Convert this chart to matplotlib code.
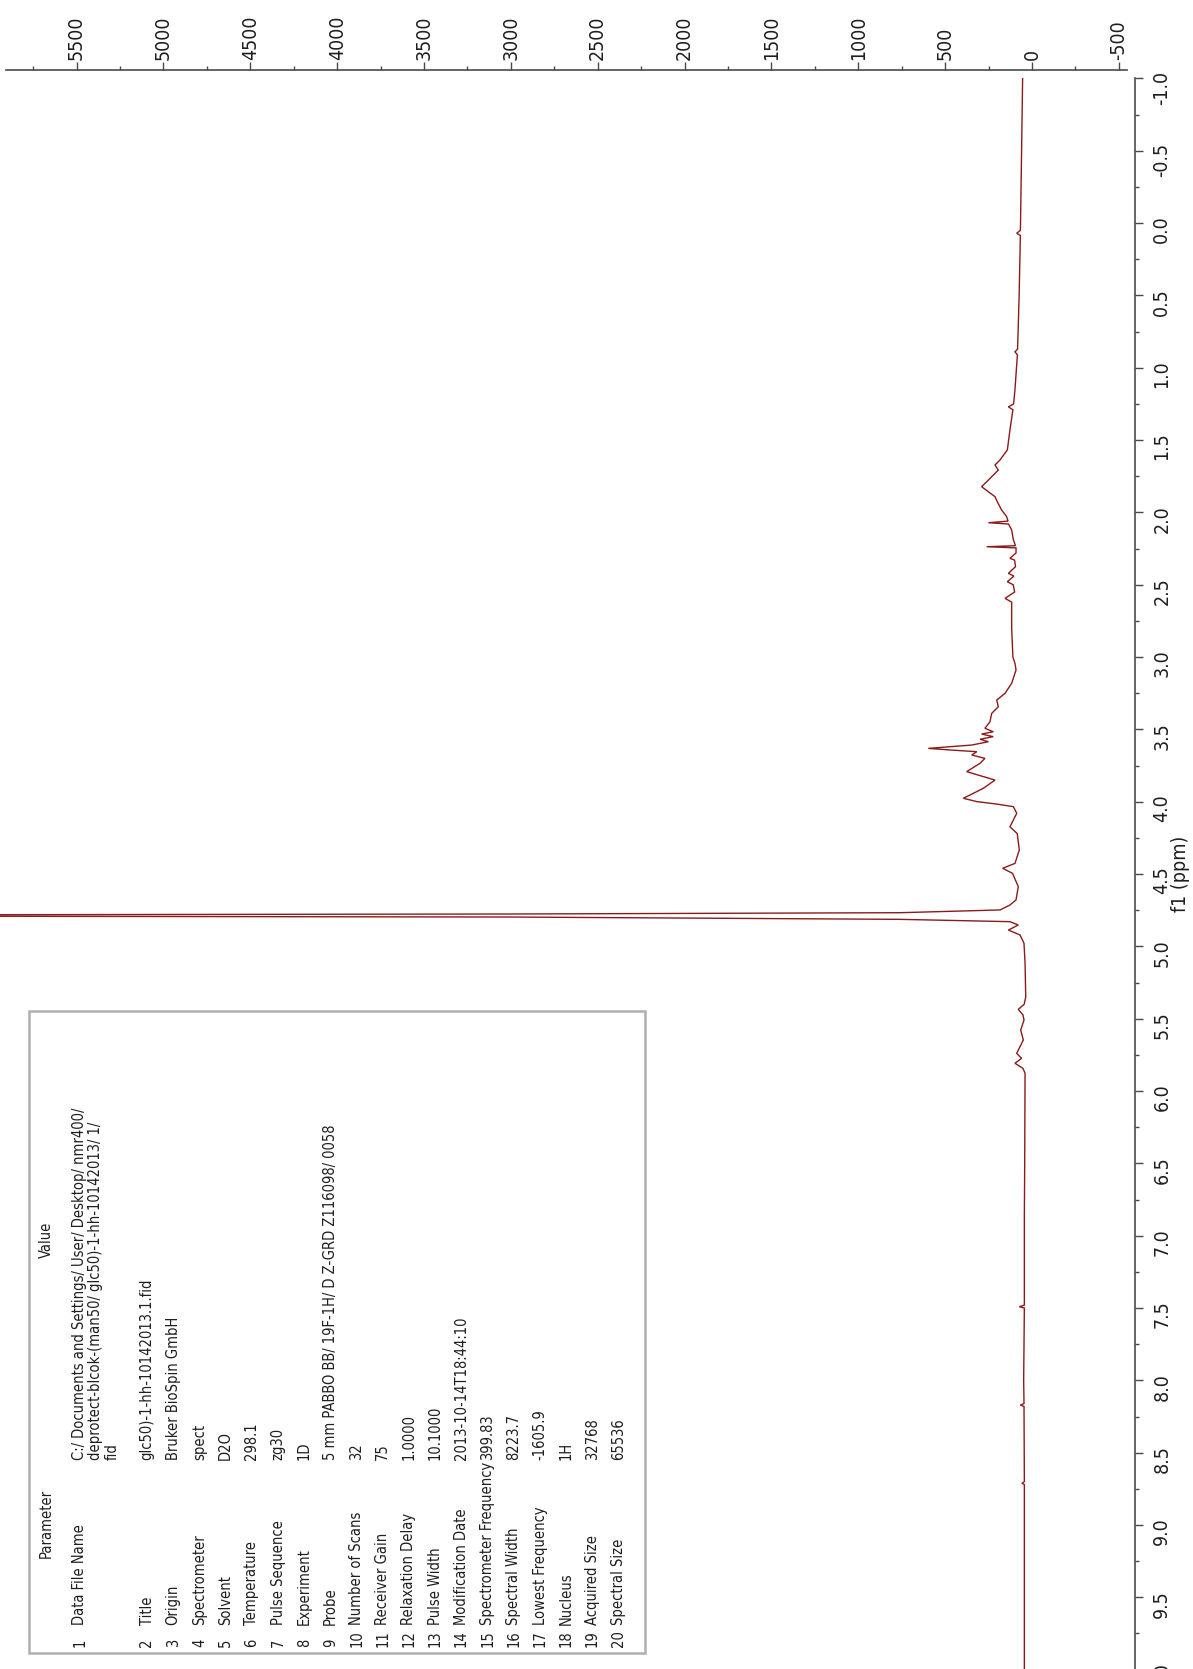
import matplotlib
matplotlib.use("Agg")
import matplotlib.pyplot as plt
from matplotlib.patches import Rectangle
from matplotlib.ticker import FixedLocator, MultipleLocator

plt.rcParams['font.family'] = ['DejaVu Sans']
plt.rcParams['font.stretch'] = 'condensed'

# ---- spectrum trace: chemical shift (ppm) and intensity ----
ppm = [-1.00, -0.50, 0.00, 0.05, 0.07, 0.085, 0.50, 0.87, 0.89, 0.91,
       1.15, 1.25, 1.27, 1.29, 1.43, 1.568, 1.637, 1.672, 1.707, 1.776,
       1.822, 1.857, 1.891, 1.926, 1.983, 2.029, 2.06, 2.071, 2.08, 2.121,
       2.19, 2.23, 2.237, 2.245, 2.28, 2.317, 2.33, 2.375, 2.421, 2.44,
       2.479, 2.50, 2.55, 2.594, 2.62, 2.80, 3.00, 3.043, 3.089, 3.181,
       3.25, 3.297, 3.343, 3.389, 3.447, 3.492, 3.516, 3.532, 3.55, 3.568,
       3.585, 3.608, 3.631, 3.642, 3.654, 3.677, 3.70, 3.734, 3.792, 3.85,
       3.907, 3.976, 3.999, 4.016, 4.034, 4.08, 4.173, 4.22, 4.333, 4.426,
       4.46, 4.495, 4.587, 4.679, 4.714, 4.748, 4.767, 4.776, 4.786, 4.797,
       4.813, 4.829, 4.852, 4.887, 4.921, 4.979, 5.117, 5.35, 5.40, 5.435,
       5.474, 5.509, 5.578, 5.647, 5.739, 5.774, 5.808, 5.843, 5.877, 6.50,
       6.86, 7.48, 7.491, 7.50, 8.00, 8.16, 8.171, 8.18, 8.70, 8.712,
       8.72, 10.00]
intensity = [54, 60, 66, 67, 88, 67, 74, 83, 98, 84,
             98, 106, 136, 110, 127, 142, 184, 213, 194, 251,
             290, 251, 213, 200, 175, 146, 138, 251, 135, 117,
             107, 95, 261, 92, 92, 127, 100, 95, 136, 104,
             142, 108, 100, 155, 117, 117, 110, 98, 92, 117,
             155, 203, 194, 232, 242, 271, 223, 290, 223, 299,
             251, 347, 597, 472, 318, 347, 271, 299, 376, 213,
             280, 395, 318, 203, 107, 88, 127, 85, 73, 98,
             169, 112, 79, 92, 127, 184, 760, 3000, 9000, 3000,
             760, 127, 79, 136, 69, 46, 40, 36, 45, 79,
             52, 46, 65, 50, 88, 60, 98, 52, 40, 42,
             44, 44, 73, 44, 48, 46, 67, 46, 44, 58,
             44, 44]

# ---- axis tick values and labels ----
intensity_ticks = [5500, 5000, 4500, 4000, 3500, 3000, 2500, 2000, 1500,
                   1000, 500, 0, -500]
intensity_labels = ["5500", "5000", "4500", "4000", "3500", "3000", "2500",
                    "2000", "1500", "1000", "500", "0", "-500"]
ppm_ticks = [-1.0, -0.5, 0.0, 0.5, 1.0, 1.5, 2.0, 2.5, 3.0, 3.5, 4.0, 4.5,
             5.0, 5.5, 6.0, 6.5, 7.0, 7.5, 8.0, 8.5, 9.0, 9.5, 10.0]
ppm_labels = ["-1.0", "-0.5", "0.0", "0.5", "1.0", "1.5", "2.0", "2.5",
              "3.0", "3.5", "4.0", "4.5", "5.0", "5.5", "6.0", "6.5",
              "7.0", "7.5", "8.0", "8.5", "9.0", "9.5", "10.0"]

# ---- acquisition parameter table ----
param_index = [str(i) for i in range(1, 21)]
param_names = ["Data File Name", "Title", "Origin", "Spectrometer", "Solvent",
               "Temperature", "Pulse Sequence", "Experiment", "Probe",
               "Number of Scans", "Receiver Gain", "Relaxation Delay",
               "Pulse Width", "Modification Date", "Spectrometer Frequency",
               "Spectral Width", "Lowest Frequency", "Nucleus",
               "Acquired Size", "Spectral Size"]
data_file_lines = ["C:/ Documents and Settings/ User/ Desktop/ nmr400/",
                   "deprotect-blcok-(man50/ glc50)-1-hh-10142013/ 1/",
                   "fid"]
param_values = [None, "glc50)-1-hh-10142013.1.fid", "Bruker BioSpin GmbH",
                "spect", "D2O", "298.1", "zg30", "1D",
                "5 mm PABBO BB/ 19F-1H/ D Z-GRD Z116098/ 0058", "32", "75",
                "1.0000", "10.1000", "2013-10-14T18:44:10", "399.83",
                "8223.7", "-1605.9", "1H", "32768", "65536"]

# ---- layout (pixels) ----
W, H, DPI = 1193, 1669, 100
X0 = 1032.0          # pixel column of zero intensity
SX = 0.1737          # pixels per intensity unit
Y_TOP = 78.5         # pixel row of -1.0 ppm
SY = 144.65          # pixels per ppm
AX_RIGHT = 1135.0
Y_BOTTOM = Y_TOP + SY * 11.0

SPEC_COLOR = '#8b1a1a'
AXIS_COLOR = '#4a4a4a'
TEXT_COLOR = '#1e1e1e'


def px_to_intensity(px):
    return (X0 - px) / SX


fig = plt.figure(figsize=(W / DPI, H / DPI), dpi=DPI)
fig.patch.set_facecolor('white')

# spectrum axes with ppm scale on the right
ax = fig.add_axes([0, 1 - Y_BOTTOM / H, AX_RIGHT / W, (Y_BOTTOM - Y_TOP) / H])
ax.set_xlim(px_to_intensity(0), px_to_intensity(AX_RIGHT))
ax.set_ylim(10.0, -1.0)
ax.plot(intensity, ppm, color=SPEC_COLOR, lw=1.0, solid_joinstyle='miter')
for side in ('left', 'top', 'bottom'):
    ax.spines[side].set_visible(False)
ax.spines['right'].set_color(AXIS_COLOR)
ax.spines['right'].set_linewidth(1.2)
ax.set_xticks([])
ax.yaxis.tick_right()
ax.yaxis.set_major_locator(FixedLocator(ppm_ticks))
ax.set_yticklabels(ppm_labels)
ax.yaxis.set_minor_locator(MultipleLocator(0.25))
ax.tick_params(axis='y', which='major', direction='out', length=5.5,
               width=1.0, color=AXIS_COLOR, labelsize=14,
               labelcolor=TEXT_COLOR, labelrotation=90, pad=7)
ax.tick_params(axis='y', which='minor', direction='out', length=2.8,
               width=1.0, color=AXIS_COLOR)
ax.set_facecolor('none')

# intensity scale along the top
AXT_L, AXT_R, AXT_Y = 6.0, 1127.0, 70.0
axt = fig.add_axes([AXT_L / W, 1 - AXT_Y / H, (AXT_R - AXT_L) / W, 1e-5])
axt.set_xlim(px_to_intensity(AXT_L), px_to_intensity(AXT_R))
for side in ('left', 'right', 'bottom'):
    axt.spines[side].set_visible(False)
axt.spines['top'].set_color(AXIS_COLOR)
axt.spines['top'].set_linewidth(1.2)
axt.set_yticks([])
axt.xaxis.tick_top()
axt.xaxis.set_major_locator(FixedLocator(intensity_ticks))
axt.set_xticklabels(intensity_labels)
axt.xaxis.set_minor_locator(MultipleLocator(250))
axt.tick_params(axis='x', which='major', direction='out', length=5.5,
                width=1.0, color=AXIS_COLOR, labelsize=14,
                labelcolor=TEXT_COLOR, labelrotation=90, pad=1.5)
axt.tick_params(axis='x', which='minor', direction='out', length=2.8,
                width=1.0, color=AXIS_COLOR)
axt.set_facecolor('none')


def ftext(xpx, ypx, s, **kw):
    fig.text(xpx / W, 1 - ypx / H, s, rotation=90, color=TEXT_COLOR, **kw)


ftext(1180, Y_TOP + SY * 5.5, "f1 (ppm)", ha='center', va='center', fontsize=14)

# parameter table frame
fig.add_artist(Rectangle((29 / W, 1 - 1653 / H), 616 / W, 642 / H,
                         transform=fig.transFigure, facecolor='white',
                         edgecolor='#b0b0b0', lw=1.8, zorder=0))

TFS = 10.5
ftext(46, 1523, "Parameter", ha='center', va='center', fontsize=TFS)
ftext(46, 1240, "Value", ha='center', va='center', fontsize=TFS)

row_x = [80] + [147 + 26.2 * i for i in range(19)]
for i in range(20):
    x = row_x[i]
    ftext(x, 1647, param_index[i], ha='center', va='bottom', fontsize=TFS)
    ftext(x, 1625, param_names[i], ha='center', va='bottom', fontsize=TFS)
    if i == 0:
        for j, line in enumerate(data_file_lines):
            ftext(x + 16 * j, 1460, line, ha='center', va='bottom', fontsize=TFS)
    else:
        ftext(x, 1460, param_values[i], ha='center', va='bottom', fontsize=TFS)

fig.savefig("out.png", dpi=DPI, facecolor='white')
